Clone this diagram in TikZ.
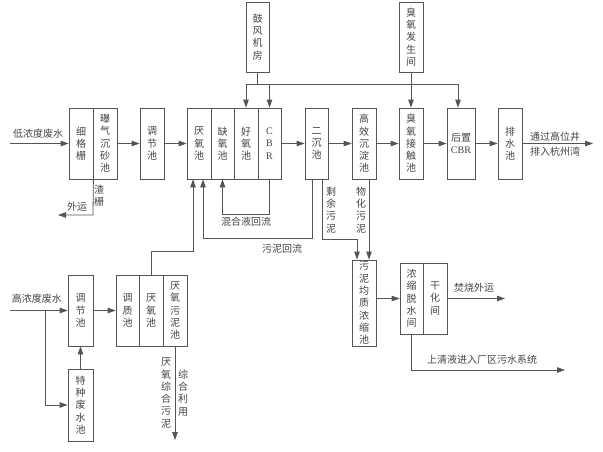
\documentclass[tikz,border=0pt]{standalone}
\usepackage{fontspec}
\setmainfont{Noto Sans CJK SC}
\newfontfamily\lat{Liberation Serif}
\usetikzlibrary{arrows.meta}
\definecolor{lc}{HTML}{555555}
\definecolor{tc}{HTML}{444444}
\begin{document}
\begin{tikzpicture}[x=1pt,y=-1pt,
 box/.style={draw=lc, line width=0.8pt, fill=white, inner sep=0pt, align=center, font=\fontsize{10}{12.3}\selectfont, text=tc},
 arr/.style={draw=lc, line width=0.8pt, -{Triangle[length=8pt,width=5.5pt]}},
 ln/.style={draw=lc, line width=0.8pt},
 lbl/.style={font=\fontsize{10}{12.3}\selectfont, text=tc, inner sep=0pt, align=center}]
\useasboundingbox[fill=white] (0,0) rectangle (603,451);
% top row boxes
\node[box, minimum width=24pt, minimum height=71pt] (xg) at (81,143.5) {细\\格\\栅};
\node[box, minimum width=24pt, minimum height=71pt] (cs) at (105,143.5) {曝\\气\\沉\\砂\\池};
\node[box, minimum width=24pt, minimum height=71pt] (tj1) at (152,143.5) {调\\节\\池};
\node[box, minimum width=24pt, minimum height=71pt] (ay) at (199,143.5) {厌\\氧\\池};
\node[box, minimum width=23pt, minimum height=71pt] (qy) at (222.5,143.5) {缺\\氧\\池};
\node[box, minimum width=24pt, minimum height=71pt] (hy) at (246,143.5) {好\\氧\\池};
\node[box, minimum width=23pt, minimum height=71pt] (cbr) at (269.5,143.5) {\lat C\\\lat B\\\lat R};
\node[box, minimum width=23pt, minimum height=71pt] (ec) at (316.5,143.5) {二\\沉\\池};
\node[box, minimum width=24pt, minimum height=71pt] (gx) at (364,143.5) {高\\效\\沉\\淀\\池};
\node[box, minimum width=24pt, minimum height=71pt] (cy) at (411,143.5) {臭\\氧\\接\\触\\池};
\node[box, minimum width=28pt, minimum height=71pt] (hz) at (461,143.5) {后置\\{\lat CBR}};
\node[box, minimum width=24pt, minimum height=71pt] (ps) at (510,143.5) {排\\水\\池};
\node[box, minimum width=23pt, minimum height=70pt] (gf) at (257.5,37) {鼓\\风\\机\\房};
\node[box, minimum width=24pt, minimum height=70pt] (cf) at (411,37) {臭\\氧\\发\\生\\间};
% lower boxes
\node[box, minimum width=25pt, minimum height=71pt] (tj2) at (80.5,310.5) {调\\节\\池};
\node[box, minimum width=25pt, minimum height=72pt] (tz) at (80.5,405) {特\\种\\废\\水\\池};
\node[box, minimum width=23pt, minimum height=71pt] (tzc) at (127.5,310.5) {调\\质\\池};
\node[box, minimum width=24pt, minimum height=71pt] (ay2) at (151,310.5) {厌\\氧\\池};
\node[box, minimum width=24pt, minimum height=71pt] (ayw) at (175,310.5) {厌\\氧\\污\\泥\\池};
\node[box, minimum width=24pt, minimum height=86pt] (wn) at (364,303) {污\\泥\\均\\质\\浓\\缩\\池};
\node[box, minimum width=23pt, minimum height=71pt] (ns) at (411.5,298.5) {浓\\缩\\脱\\水\\间};
\node[box, minimum width=24pt, minimum height=71pt] (gh) at (435,298.5) {干\\化\\间};
% coordinates
\coordinate (inL) at (10,143.5);
\coordinate (outR) at (593,143.5);
\coordinate (j0) at (257.5,84);
\coordinate (j1) at (246,84);
\coordinate (j2) at (269.5,84);
\coordinate (j3) at (458,84);
\coordinate (zs1) at (93,215);
\coordinate (zs2) at (58,215);
\coordinate (hl1) at (269.5,214);
\coordinate (hl2) at (222.5,214);
\coordinate (wh0) at (312,179);
\coordinate (wh1) at (312,238);
\coordinate (wh2) at (203,238);
\coordinate (ah1) at (151,251);
\coordinate (ah2) at (193,251);
\coordinate (sy0) at (322,179);
\coordinate (sy1) at (322,239);
\coordinate (sy2) at (357,239);
\coordinate (wh3) at (369,179);
\coordinate (fs) at (505,298.5);
\coordinate (sq1) at (411.5,370);
\coordinate (sq2) at (565,370);
\coordinate (inH) at (10,310.5);
\coordinate (br) at (45,310.5);
\coordinate (br2) at (45,405);
\coordinate (zh) at (175,440);
% main flow
\draw[arr] (inL) -- (xg.west);
\draw[arr] (cs.east) -- (tj1.west);
\draw[arr] (tj1.east) -- (ay.west);
\draw[arr] (cbr.east) -- (ec.west);
\draw[arr] (ec.east) -- (gx.west);
\draw[arr] (gx.east) -- (cy.west);
\draw[arr] (cy.east) -- (hz.west);
\draw[arr] (hz.east) -- (ps.west);
\draw[arr] (ps.east) -- (outR);
% air and ozone
\draw[ln] (gf.south) -- (j0);
\draw[ln] (j1) -- (j3);
\draw[arr] (j1) -- (hy.north);
\draw[arr] (j2) -- (cbr.north);
\draw[arr] (j3) -- (j3 |- hz.north);
\draw[arr] (cf.south) -- (cy.north);
% screenings
\draw[arr] (xg.south east) -- (zs1) -- (zs2);
% returns
\draw[arr] (cbr.south) -- (hl1) -- (hl2) -- (qy.south);
\draw[arr] (wh0) -- (wh1) -- (wh2) -- (wh2 |- ay.south);
\draw[arr] (ay2.north) -- (ah1) -- (ah2) -- (ah2 |- ay.south);
\draw[arr] (sy0) -- (sy1) -- (sy2) -- (sy2 |- wn.north);
\draw[arr] (wh3) -- (wh3 |- wn.north);
% sludge
\draw[arr] (ns.west -| wn.east) -- (ns.west);
\draw[arr] (gh.east) -- (fs);
\draw[arr] (ns.south) -- (sq1) -- (sq2);
% high concentration
\draw[arr] (inH) -- (tj2.west);
\draw[arr] (br) -- (br2) -- (tz.west);
\draw[arr] (tz.north) -- (tj2.south);
\draw[arr] (tj2.east) -- (tzc.west);
\draw[arr] (ayw.south) -- (zh);
% labels
\node[lbl] (t1) at (38,134) {低浓度废水};
\node[lbl] (t2) at (77,207) {外运};
\node[lbl] (t3) at (99,196) {渣\\栅};
\node[lbl] (t4) at (246,222) {混合液回流};
\node[lbl] (t5) at (282,249) {污泥回流};
\node[lbl] (t6) at (331,210) {剩\\余\\污\\泥};
\node[lbl] (t7) at (361,210) {物\\化\\污\\泥};
\node[lbl, font=\fontsize{10}{15}\selectfont] (t8) at (555,144.5) {通过高位井\\排入杭州湾};
\node[lbl] (t9) at (474,288) {焚烧外运};
\node[lbl] (t10) at (482,360) {上清液进入厂区污水系统};
\node[lbl] (t11) at (37,299) {高浓度废水};
\node[lbl] (t12) at (166,393) {厌\\氧\\综\\合\\污\\泥};
\node[lbl] (t13) at (183,393) {综\\合\\利\\用};
\end{tikzpicture}
\end{document}
